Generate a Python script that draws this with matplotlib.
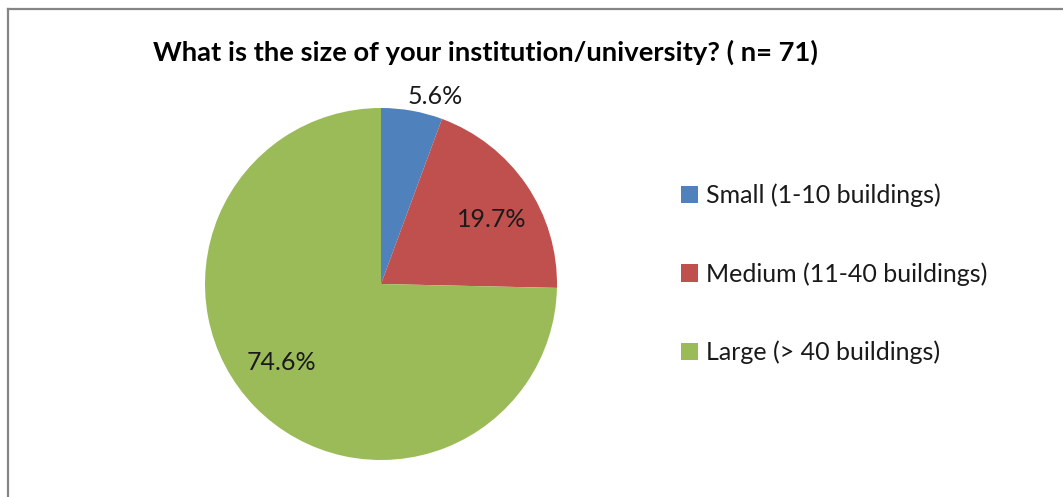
import numpy as np
import matplotlib
matplotlib.use("Agg")
import matplotlib.pyplot as plt
from matplotlib.lines import Line2D

plt.rcParams['font.family'] = ['Lato', 'DejaVu Sans']

# survey responses (n = 71)
categories = ["Small (1-10 buildings)", "Medium (11-40 buildings)", "Large (> 40 buildings)"]
counts = [4, 14, 53]
colors = ["#4F81BD", "#C0504D", "#9BBB59"]
title = "What is the size of your institution/university? ( n= 71)"

W, H = 1063, 497
fig = plt.figure(figsize=(W / 100, H / 100), dpi=100)

# pie sits at (381, 284) px with radius 176 px
cx, cy, R = 381, 284, 176
ax = fig.add_axes([(cx - R) / W, (H - cy - R) / H, 2 * R / W, 2 * R / H])
wedges, _ = ax.pie(counts, colors=colors, startangle=90, counterclock=False,
                   radius=1, wedgeprops=dict(linewidth=0))
ax.set_xlim(-1, 1)
ax.set_ylim(-1, 1)
ax.set_aspect("equal")
ax.axis("off")

# percentage labels: radial distance and angular nudge per wedge
pcts = np.array(counts) / sum(counts) * 100
label_r = [1.11, 0.73, 0.72]
label_shift = [-6, -4, -6]
for w, p, r, s in zip(wedges, pcts, label_r, label_shift):
    mid = np.deg2rad((w.theta1 + w.theta2) / 2 + s)
    ax.text(r * np.cos(mid), r * np.sin(mid), f"{p:.1f}%", ha="center", va="center",
            fontsize=18, color="#1a1a1a", clip_on=False)

fig.text(485 / W, 1 - 52 / H, title, ha="center", va="center",
         fontsize=19.7, fontweight="bold", color="black")

fig.legend(wedges, categories, loc="center left",
           bbox_to_anchor=(658 / W, 1 - 274 / H), frameon=False,
           fontsize=18, handlelength=0.7, handleheight=0.7,
           handletextpad=0.3, labelspacing=2.2, labelcolor="#1a1a1a")

# chart frame (top and left edges)
fig.add_artist(Line2D([8 / W, 1], [1 - 9 / H, 1 - 9 / H], color="#858585", lw=1.6))
fig.add_artist(Line2D([8 / W, 8 / W], [0, 1 - 9 / H], color="#858585", lw=1.6))

fig.savefig("out.png", dpi=100, facecolor="white")
